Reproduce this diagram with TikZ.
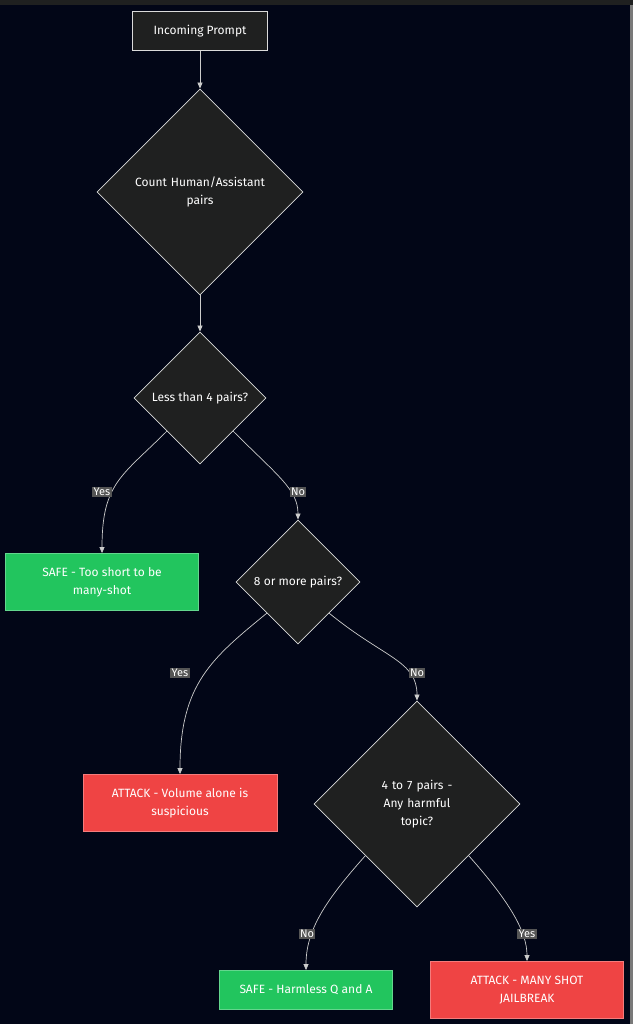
\documentclass[tikz,border=0pt]{standalone}
\usepackage{fontspec}
\setmainfont{Fira Sans}
\usetikzlibrary{shapes.geometric, arrows.meta, positioning}
\definecolor{bgdark}{HTML}{020617}
\definecolor{boxgray}{HTML}{1F2020}
\definecolor{edgegray}{HTML}{CCCCCC}
\definecolor{safegreen}{HTML}{22C55E}
\definecolor{attackred}{HTML}{EF4444}
\definecolor{lblgray}{HTML}{555555}
\tikzset{
  box/.style = {draw=edgegray!70, fill=boxgray, text=white!85, line width=0.8pt, align=center, inner sep=0pt},
  choice/.style = {diamond, aspect=1, draw=edgegray!70, fill=boxgray, text=white!85, line width=0.8pt, align=center, inner sep=0pt},
  safe/.style = {box, fill=safegreen, draw=safegreen!70!white, text=white},
  attack/.style = {box, fill=attackred, draw=attackred!70!white, text=white},
  lbl/.style = {fill=lblgray, text=white!85, inner sep=1.5pt, font=\fontsize{11}{13}\selectfont},
  link/.style = {draw=edgegray, line width=0.7pt, -{Triangle[length=6pt, width=5pt]}},
}
\begin{document}
\begin{tikzpicture}[x=1pt, y=-1pt, font=\fontsize{12}{18}\selectfont]
  \fill[bgdark] (0,0) rectangle (633,1024);
  \fill[boxgray] (0,0) rectangle (633,5);
  \fill[boxgray!60] (630,5) rectangle (633,1024);
  % nodes
  \node[box, minimum width=135pt, minimum height=39pt] (prompt) at (200,31) {Incoming Prompt};
  \node[choice, minimum width=206pt, minimum height=206pt, text width=130pt] (count) at (200,192) {Count Human/Assistant\\pairs};
  \node[choice, minimum width=132pt, minimum height=132pt] (less) at (200,398) {Less than 4 pairs?};
  \node[safe, minimum width=193pt, minimum height=57pt] (safeshort) at (102,582) {SAFE - Too short to be\\many-shot};
  \node[choice, minimum width=124pt, minimum height=124pt] (more) at (298,582) {8 or more pairs?};
  \node[attack, minimum width=194pt, minimum height=57pt] (volume) at (180,803) {ATTACK - Volume alone is\\suspicious};
  \node[choice, minimum width=206pt, minimum height=206pt, text width=130pt] (harm) at (417,804) {4 to 7 pairs - Any harmful\\topic?};
  \node[safe, minimum width=173pt, minimum height=39pt] (safeqa) at (306,990) {SAFE - Harmless Q and A};
  \node[attack, minimum width=193pt, minimum height=57pt] (jail) at (527,990) {ATTACK - MANY SHOT\\JAILBREAK};
  % connectors
  \draw[link] (prompt) -- (count);
  \draw[link] (count) -- (less);
  \draw[link] (less.south west) .. controls +(-45,45) and +(0,-70) .. (safeshort.north);
  \draw[link] (less.south east) .. controls +(45,45) and +(0,-30) .. (more.north);
  \draw[link] (more.south west) .. controls +(-55,45) and +(0,-90) .. (volume.north);
  \draw[link] (more.south east) .. controls +(55,45) and +(0,-40) .. (harm.north);
  \draw[link] (harm.south west) .. controls +(-40,45) and +(0,-40) .. (safeqa.north);
  \draw[link] (harm.south east) .. controls +(40,45) and +(0,-30) .. (jail.north);
  % edge labels
  \node[lbl] (yes1) at (102,492) {Yes};
  \node[lbl] (no1) at (298,492) {No};
  \node[lbl] (yes2) at (180,673) {Yes};
  \node[lbl] (no2) at (417,673) {No};
  \node[lbl] (no3) at (307,934) {No};
  \node[lbl] (yes3) at (527,934) {Yes};
\end{tikzpicture}
\end{document}
